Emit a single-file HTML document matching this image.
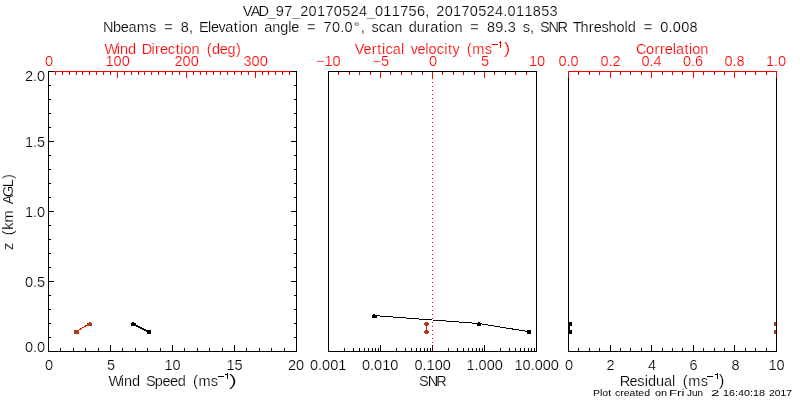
<!DOCTYPE html>
<html><head><meta charset="utf-8"><title>VAD plot</title>
<style>html,body{margin:0;padding:0;background:#fff;width:800px;height:400px;overflow:hidden}
svg{display:block;will-change:transform} text{font-family:"Liberation Sans", sans-serif;white-space:pre;stroke:#fff;stroke-width:0.2px}</style></head>
<body><svg width="800" height="400" viewBox="0 0 800 400">
<rect x="0" y="0" width="800" height="400" fill="#fff"/>
<g shape-rendering="crispEdges">
<rect x="48" y="71" width="1" height="281" fill="#000000"/>
<rect x="296" y="71" width="1" height="281" fill="#000000"/>
<rect x="48" y="351" width="249" height="1" fill="#000000"/>
<rect x="48" y="71" width="6" height="1" fill="#000000"/>
<rect x="54" y="71" width="237" height="1" fill="#ff0000"/>
<rect x="291" y="71" width="6" height="1" fill="#000000"/>
<rect x="48" y="351" width="6" height="1" fill="#000000"/>
<rect x="291" y="351" width="6" height="1" fill="#000000"/>
<rect x="48" y="337" width="3" height="1" fill="#000000"/>
<rect x="294" y="337" width="3" height="1" fill="#000000"/>
<rect x="48" y="323" width="3" height="1" fill="#000000"/>
<rect x="294" y="323" width="3" height="1" fill="#000000"/>
<rect x="48" y="309" width="3" height="1" fill="#000000"/>
<rect x="294" y="309" width="3" height="1" fill="#000000"/>
<rect x="48" y="295" width="3" height="1" fill="#000000"/>
<rect x="294" y="295" width="3" height="1" fill="#000000"/>
<rect x="48" y="281" width="6" height="1" fill="#000000"/>
<rect x="291" y="281" width="6" height="1" fill="#000000"/>
<rect x="48" y="267" width="3" height="1" fill="#000000"/>
<rect x="294" y="267" width="3" height="1" fill="#000000"/>
<rect x="48" y="253" width="3" height="1" fill="#000000"/>
<rect x="294" y="253" width="3" height="1" fill="#000000"/>
<rect x="48" y="239" width="3" height="1" fill="#000000"/>
<rect x="294" y="239" width="3" height="1" fill="#000000"/>
<rect x="48" y="225" width="3" height="1" fill="#000000"/>
<rect x="294" y="225" width="3" height="1" fill="#000000"/>
<rect x="48" y="211" width="6" height="1" fill="#000000"/>
<rect x="291" y="211" width="6" height="1" fill="#000000"/>
<rect x="48" y="197" width="3" height="1" fill="#000000"/>
<rect x="294" y="197" width="3" height="1" fill="#000000"/>
<rect x="48" y="183" width="3" height="1" fill="#000000"/>
<rect x="294" y="183" width="3" height="1" fill="#000000"/>
<rect x="48" y="169" width="3" height="1" fill="#000000"/>
<rect x="294" y="169" width="3" height="1" fill="#000000"/>
<rect x="48" y="155" width="3" height="1" fill="#000000"/>
<rect x="294" y="155" width="3" height="1" fill="#000000"/>
<rect x="48" y="141" width="6" height="1" fill="#000000"/>
<rect x="291" y="141" width="6" height="1" fill="#000000"/>
<rect x="48" y="127" width="3" height="1" fill="#000000"/>
<rect x="294" y="127" width="3" height="1" fill="#000000"/>
<rect x="48" y="113" width="3" height="1" fill="#000000"/>
<rect x="294" y="113" width="3" height="1" fill="#000000"/>
<rect x="48" y="99" width="3" height="1" fill="#000000"/>
<rect x="294" y="99" width="3" height="1" fill="#000000"/>
<rect x="48" y="85" width="3" height="1" fill="#000000"/>
<rect x="294" y="85" width="3" height="1" fill="#000000"/>
<rect x="48" y="71" width="6" height="1" fill="#000000"/>
<rect x="291" y="71" width="6" height="1" fill="#000000"/>
<rect x="60" y="348" width="1" height="3" fill="#000000"/>
<rect x="73" y="348" width="1" height="3" fill="#000000"/>
<rect x="85" y="348" width="1" height="3" fill="#000000"/>
<rect x="98" y="348" width="1" height="3" fill="#000000"/>
<rect x="110" y="345" width="1" height="6" fill="#000000"/>
<rect x="122" y="348" width="1" height="3" fill="#000000"/>
<rect x="135" y="348" width="1" height="3" fill="#000000"/>
<rect x="147" y="348" width="1" height="3" fill="#000000"/>
<rect x="160" y="348" width="1" height="3" fill="#000000"/>
<rect x="172" y="345" width="1" height="6" fill="#000000"/>
<rect x="184" y="348" width="1" height="3" fill="#000000"/>
<rect x="197" y="348" width="1" height="3" fill="#000000"/>
<rect x="209" y="348" width="1" height="3" fill="#000000"/>
<rect x="222" y="348" width="1" height="3" fill="#000000"/>
<rect x="234" y="345" width="1" height="6" fill="#000000"/>
<rect x="246" y="348" width="1" height="3" fill="#000000"/>
<rect x="259" y="348" width="1" height="3" fill="#000000"/>
<rect x="271" y="348" width="1" height="3" fill="#000000"/>
<rect x="284" y="348" width="1" height="3" fill="#000000"/>
<rect x="55" y="72" width="1" height="3" fill="#ff0000"/>
<rect x="62" y="72" width="1" height="3" fill="#ff0000"/>
<rect x="69" y="72" width="1" height="3" fill="#ff0000"/>
<rect x="76" y="72" width="1" height="3" fill="#ff0000"/>
<rect x="82" y="72" width="1" height="3" fill="#ff0000"/>
<rect x="89" y="72" width="1" height="3" fill="#ff0000"/>
<rect x="96" y="72" width="1" height="3" fill="#ff0000"/>
<rect x="103" y="72" width="1" height="3" fill="#ff0000"/>
<rect x="110" y="72" width="1" height="3" fill="#ff0000"/>
<rect x="117" y="72" width="1" height="6" fill="#ff0000"/>
<rect x="124" y="72" width="1" height="3" fill="#ff0000"/>
<rect x="131" y="72" width="1" height="3" fill="#ff0000"/>
<rect x="138" y="72" width="1" height="3" fill="#ff0000"/>
<rect x="144" y="72" width="1" height="3" fill="#ff0000"/>
<rect x="151" y="72" width="1" height="3" fill="#ff0000"/>
<rect x="158" y="72" width="1" height="3" fill="#ff0000"/>
<rect x="165" y="72" width="1" height="3" fill="#ff0000"/>
<rect x="172" y="72" width="1" height="3" fill="#ff0000"/>
<rect x="179" y="72" width="1" height="3" fill="#ff0000"/>
<rect x="186" y="72" width="1" height="6" fill="#ff0000"/>
<rect x="193" y="72" width="1" height="3" fill="#ff0000"/>
<rect x="200" y="72" width="1" height="3" fill="#ff0000"/>
<rect x="206" y="72" width="1" height="3" fill="#ff0000"/>
<rect x="213" y="72" width="1" height="3" fill="#ff0000"/>
<rect x="220" y="72" width="1" height="3" fill="#ff0000"/>
<rect x="227" y="72" width="1" height="3" fill="#ff0000"/>
<rect x="234" y="72" width="1" height="3" fill="#ff0000"/>
<rect x="241" y="72" width="1" height="3" fill="#ff0000"/>
<rect x="248" y="72" width="1" height="3" fill="#ff0000"/>
<rect x="255" y="72" width="1" height="6" fill="#ff0000"/>
<rect x="262" y="72" width="1" height="3" fill="#ff0000"/>
<rect x="268" y="72" width="1" height="3" fill="#ff0000"/>
<rect x="275" y="72" width="1" height="3" fill="#ff0000"/>
<rect x="282" y="72" width="1" height="3" fill="#ff0000"/>
<rect x="289" y="72" width="1" height="3" fill="#ff0000"/>
<rect x="328" y="71" width="1" height="281" fill="#000000"/>
<rect x="536" y="71" width="1" height="281" fill="#000000"/>
<rect x="328" y="351" width="209" height="1" fill="#000000"/>
<rect x="328" y="71" width="209" height="1" fill="#000000"/>
<rect x="338" y="72" width="1" height="3" fill="#ff0000"/>
<rect x="349" y="72" width="1" height="3" fill="#ff0000"/>
<rect x="359" y="72" width="1" height="3" fill="#ff0000"/>
<rect x="370" y="72" width="1" height="3" fill="#ff0000"/>
<rect x="380" y="72" width="1" height="6" fill="#ff0000"/>
<rect x="390" y="72" width="1" height="3" fill="#ff0000"/>
<rect x="401" y="72" width="1" height="3" fill="#ff0000"/>
<rect x="411" y="72" width="1" height="3" fill="#ff0000"/>
<rect x="422" y="72" width="1" height="3" fill="#ff0000"/>
<rect x="432" y="72" width="1" height="6" fill="#ff0000"/>
<rect x="442" y="72" width="1" height="3" fill="#ff0000"/>
<rect x="453" y="72" width="1" height="3" fill="#ff0000"/>
<rect x="463" y="72" width="1" height="3" fill="#ff0000"/>
<rect x="474" y="72" width="1" height="3" fill="#ff0000"/>
<rect x="484" y="72" width="1" height="6" fill="#ff0000"/>
<rect x="494" y="72" width="1" height="3" fill="#ff0000"/>
<rect x="505" y="72" width="1" height="3" fill="#ff0000"/>
<rect x="515" y="72" width="1" height="3" fill="#ff0000"/>
<rect x="526" y="72" width="1" height="3" fill="#ff0000"/>
<rect x="344" y="348" width="1" height="3" fill="#000000"/>
<rect x="353" y="348" width="1" height="3" fill="#000000"/>
<rect x="359" y="348" width="1" height="3" fill="#000000"/>
<rect x="364" y="348" width="1" height="3" fill="#000000"/>
<rect x="368" y="348" width="1" height="3" fill="#000000"/>
<rect x="372" y="348" width="1" height="3" fill="#000000"/>
<rect x="375" y="348" width="1" height="3" fill="#000000"/>
<rect x="378" y="348" width="1" height="3" fill="#000000"/>
<rect x="396" y="348" width="1" height="3" fill="#000000"/>
<rect x="405" y="348" width="1" height="3" fill="#000000"/>
<rect x="411" y="348" width="1" height="3" fill="#000000"/>
<rect x="416" y="348" width="1" height="3" fill="#000000"/>
<rect x="420" y="348" width="1" height="3" fill="#000000"/>
<rect x="424" y="348" width="1" height="3" fill="#000000"/>
<rect x="427" y="348" width="1" height="3" fill="#000000"/>
<rect x="430" y="348" width="1" height="3" fill="#000000"/>
<rect x="380" y="345" width="1" height="6" fill="#000000"/>
<rect x="448" y="348" width="1" height="3" fill="#000000"/>
<rect x="457" y="348" width="1" height="3" fill="#000000"/>
<rect x="463" y="348" width="1" height="3" fill="#000000"/>
<rect x="468" y="348" width="1" height="3" fill="#000000"/>
<rect x="472" y="348" width="1" height="3" fill="#000000"/>
<rect x="476" y="348" width="1" height="3" fill="#000000"/>
<rect x="479" y="348" width="1" height="3" fill="#000000"/>
<rect x="482" y="348" width="1" height="3" fill="#000000"/>
<rect x="432" y="345" width="1" height="6" fill="#000000"/>
<rect x="500" y="348" width="1" height="3" fill="#000000"/>
<rect x="509" y="348" width="1" height="3" fill="#000000"/>
<rect x="515" y="348" width="1" height="3" fill="#000000"/>
<rect x="520" y="348" width="1" height="3" fill="#000000"/>
<rect x="524" y="348" width="1" height="3" fill="#000000"/>
<rect x="528" y="348" width="1" height="3" fill="#000000"/>
<rect x="531" y="348" width="1" height="3" fill="#000000"/>
<rect x="534" y="348" width="1" height="3" fill="#000000"/>
<rect x="484" y="345" width="1" height="6" fill="#000000"/>
<rect x="568" y="71" width="1" height="281" fill="#000000"/>
<rect x="776" y="71" width="1" height="281" fill="#000000"/>
<rect x="568" y="351" width="209" height="1" fill="#000000"/>
<rect x="568" y="71" width="209" height="1" fill="#ff0000"/>
<rect x="568" y="71" width="1" height="7" fill="#ff0000"/>
<rect x="776" y="71" width="1" height="7" fill="#ff0000"/>
<rect x="578" y="72" width="1" height="3" fill="#ff0000"/>
<rect x="578" y="348" width="1" height="3" fill="#000000"/>
<rect x="589" y="72" width="1" height="3" fill="#ff0000"/>
<rect x="589" y="348" width="1" height="3" fill="#000000"/>
<rect x="599" y="72" width="1" height="3" fill="#ff0000"/>
<rect x="599" y="348" width="1" height="3" fill="#000000"/>
<rect x="610" y="72" width="1" height="6" fill="#ff0000"/>
<rect x="610" y="345" width="1" height="6" fill="#000000"/>
<rect x="620" y="72" width="1" height="3" fill="#ff0000"/>
<rect x="620" y="348" width="1" height="3" fill="#000000"/>
<rect x="630" y="72" width="1" height="3" fill="#ff0000"/>
<rect x="630" y="348" width="1" height="3" fill="#000000"/>
<rect x="641" y="72" width="1" height="3" fill="#ff0000"/>
<rect x="641" y="348" width="1" height="3" fill="#000000"/>
<rect x="651" y="72" width="1" height="6" fill="#ff0000"/>
<rect x="651" y="345" width="1" height="6" fill="#000000"/>
<rect x="662" y="72" width="1" height="3" fill="#ff0000"/>
<rect x="662" y="348" width="1" height="3" fill="#000000"/>
<rect x="672" y="72" width="1" height="3" fill="#ff0000"/>
<rect x="672" y="348" width="1" height="3" fill="#000000"/>
<rect x="682" y="72" width="1" height="3" fill="#ff0000"/>
<rect x="682" y="348" width="1" height="3" fill="#000000"/>
<rect x="693" y="72" width="1" height="6" fill="#ff0000"/>
<rect x="693" y="345" width="1" height="6" fill="#000000"/>
<rect x="703" y="72" width="1" height="3" fill="#ff0000"/>
<rect x="703" y="348" width="1" height="3" fill="#000000"/>
<rect x="714" y="72" width="1" height="3" fill="#ff0000"/>
<rect x="714" y="348" width="1" height="3" fill="#000000"/>
<rect x="724" y="72" width="1" height="3" fill="#ff0000"/>
<rect x="724" y="348" width="1" height="3" fill="#000000"/>
<rect x="734" y="72" width="1" height="6" fill="#ff0000"/>
<rect x="734" y="345" width="1" height="6" fill="#000000"/>
<rect x="745" y="72" width="1" height="3" fill="#ff0000"/>
<rect x="745" y="348" width="1" height="3" fill="#000000"/>
<rect x="755" y="72" width="1" height="3" fill="#ff0000"/>
<rect x="755" y="348" width="1" height="3" fill="#000000"/>
<rect x="766" y="72" width="1" height="3" fill="#ff0000"/>
<rect x="766" y="348" width="1" height="3" fill="#000000"/>
<rect x="492" y="44" width="6" height="1" fill="#ff0000"/>
<rect x="218" y="376" width="6" height="1" fill="#000000"/>
<rect x="707" y="376" width="6" height="1" fill="#000000"/>
<rect x="500" y="41" width="1" height="7" fill="#ff0000"/>
<rect x="499" y="42" width="1" height="1" fill="#ff0000"/>
<rect x="227" y="373" width="1" height="6" fill="#000000"/>
<rect x="225" y="374" width="2" height="1" fill="#000000"/>
<rect x="717" y="373" width="1" height="6" fill="#000000"/>
<rect x="715" y="374" width="2" height="1" fill="#000000"/>
</g>
<rect x="432" y="74" width="1" height="1" fill="#ff0000"/>
<rect x="432" y="78" width="1" height="1" fill="#ff0000"/>
<rect x="432" y="82" width="1" height="1" fill="#ff0000"/>
<rect x="432" y="86" width="1" height="1" fill="#ff0000"/>
<rect x="432" y="90" width="1" height="1" fill="#ff0000"/>
<rect x="432" y="94" width="1" height="1" fill="#ff0000"/>
<rect x="432" y="98" width="1" height="1" fill="#ff0000"/>
<rect x="432" y="102" width="1" height="1" fill="#ff0000"/>
<rect x="432" y="106" width="1" height="1" fill="#ff0000"/>
<rect x="432" y="110" width="1" height="1" fill="#ff0000"/>
<rect x="432" y="114" width="1" height="1" fill="#ff0000"/>
<rect x="432" y="118" width="1" height="1" fill="#ff0000"/>
<rect x="432" y="122" width="1" height="1" fill="#ff0000"/>
<rect x="432" y="126" width="1" height="1" fill="#ff0000"/>
<rect x="432" y="130" width="1" height="1" fill="#ff0000"/>
<rect x="432" y="134" width="1" height="1" fill="#ff0000"/>
<rect x="432" y="138" width="1" height="1" fill="#ff0000"/>
<rect x="432" y="142" width="1" height="1" fill="#ff0000"/>
<rect x="432" y="146" width="1" height="1" fill="#ff0000"/>
<rect x="432" y="150" width="1" height="1" fill="#ff0000"/>
<rect x="432" y="154" width="1" height="1" fill="#ff0000"/>
<rect x="432" y="158" width="1" height="1" fill="#ff0000"/>
<rect x="432" y="162" width="1" height="1" fill="#ff0000"/>
<rect x="432" y="166" width="1" height="1" fill="#ff0000"/>
<rect x="432" y="170" width="1" height="1" fill="#ff0000"/>
<rect x="432" y="174" width="1" height="1" fill="#ff0000"/>
<rect x="432" y="178" width="1" height="1" fill="#ff0000"/>
<rect x="432" y="182" width="1" height="1" fill="#ff0000"/>
<rect x="432" y="186" width="1" height="1" fill="#ff0000"/>
<rect x="432" y="190" width="1" height="1" fill="#ff0000"/>
<rect x="432" y="194" width="1" height="1" fill="#ff0000"/>
<rect x="432" y="198" width="1" height="1" fill="#ff0000"/>
<rect x="432" y="202" width="1" height="1" fill="#ff0000"/>
<rect x="432" y="206" width="1" height="1" fill="#ff0000"/>
<rect x="432" y="210" width="1" height="1" fill="#ff0000"/>
<rect x="432" y="214" width="1" height="1" fill="#ff0000"/>
<rect x="432" y="218" width="1" height="1" fill="#ff0000"/>
<rect x="432" y="222" width="1" height="1" fill="#ff0000"/>
<rect x="432" y="226" width="1" height="1" fill="#ff0000"/>
<rect x="432" y="230" width="1" height="1" fill="#ff0000"/>
<rect x="432" y="234" width="1" height="1" fill="#ff0000"/>
<rect x="432" y="238" width="1" height="1" fill="#ff0000"/>
<rect x="432" y="242" width="1" height="1" fill="#ff0000"/>
<rect x="432" y="246" width="1" height="1" fill="#ff0000"/>
<rect x="432" y="250" width="1" height="1" fill="#ff0000"/>
<rect x="432" y="254" width="1" height="1" fill="#ff0000"/>
<rect x="432" y="258" width="1" height="1" fill="#ff0000"/>
<rect x="432" y="262" width="1" height="1" fill="#ff0000"/>
<rect x="432" y="266" width="1" height="1" fill="#ff0000"/>
<rect x="432" y="270" width="1" height="1" fill="#ff0000"/>
<rect x="432" y="274" width="1" height="1" fill="#ff0000"/>
<rect x="432" y="278" width="1" height="1" fill="#ff0000"/>
<rect x="432" y="282" width="1" height="1" fill="#ff0000"/>
<rect x="432" y="286" width="1" height="1" fill="#ff0000"/>
<rect x="432" y="290" width="1" height="1" fill="#ff0000"/>
<rect x="432" y="294" width="1" height="1" fill="#ff0000"/>
<rect x="432" y="298" width="1" height="1" fill="#ff0000"/>
<rect x="432" y="302" width="1" height="1" fill="#ff0000"/>
<rect x="432" y="306" width="1" height="1" fill="#ff0000"/>
<rect x="432" y="310" width="1" height="1" fill="#ff0000"/>
<rect x="432" y="314" width="1" height="1" fill="#ff0000"/>
<rect x="432" y="318" width="1" height="1" fill="#ff0000"/>
<rect x="432" y="322" width="1" height="1" fill="#ff0000"/>
<rect x="432" y="326" width="1" height="1" fill="#ff0000"/>
<rect x="432" y="330" width="1" height="1" fill="#ff0000"/>
<rect x="432" y="334" width="1" height="1" fill="#ff0000"/>
<rect x="432" y="338" width="1" height="1" fill="#ff0000"/>
<rect x="432" y="342" width="1" height="1" fill="#ff0000"/>
<rect x="432" y="346" width="1" height="1" fill="#ff0000"/>
<rect x="432" y="350" width="1" height="1" fill="#ff0000"/>
<line x1="76.5" y1="331.5" x2="89.5" y2="323.5" stroke="#ff0000" stroke-width="1" shape-rendering="crispEdges"/>
<rect x="74" y="330" width="5" height="4" fill="#b23b1f"/>
<rect x="87" y="323" width="5" height="3" fill="#b23b1f"/>
<rect x="89" y="322" width="2" height="1" fill="#b23b1f"/>
<line x1="134" y1="324.5" x2="148" y2="331.5" stroke="#000000" stroke-width="2" shape-rendering="crispEdges"/>
<rect x="131" y="323" width="5" height="3" fill="#000000"/>
<rect x="132" y="322" width="2" height="1" fill="#000000"/>
<rect x="147" y="330" width="4" height="4" fill="#000000"/>
<polyline points="374.5,315.6 478.5,323.5 528.5,331.6" fill="none" stroke="#000000" stroke-width="1" shape-rendering="crispEdges"/>
<rect x="372" y="315" width="5" height="3" fill="#000000"/>
<rect x="373" y="314" width="2" height="1" fill="#000000"/>
<rect x="477" y="323" width="4" height="3" fill="#000000"/>
<rect x="478" y="322" width="2" height="1" fill="#000000"/>
<rect x="527" y="330" width="4" height="4" fill="#000000"/>
<rect x="426" y="326" width="1" height="4" fill="#ff0000"/>
<rect x="425" y="322" width="3" height="4" fill="#b23b1f"/>
<rect x="424" y="323" width="5" height="2" fill="#b23b1f"/>
<rect x="425" y="330" width="3" height="4" fill="#b23b1f"/>
<rect x="424" y="331" width="5" height="2" fill="#b23b1f"/>
<rect x="568" y="322" width="4" height="4" fill="#000000"/>
<rect x="568" y="330" width="4" height="4" fill="#000000"/>
<rect x="568" y="326" width="2" height="4" fill="#000000"/>
<rect x="774" y="322" width="2" height="4" fill="#b23b1f"/>
<rect x="774" y="330" width="2" height="4" fill="#b23b1f"/>
<text x="242.72 250.69 258.48 267.87 275.85 284.25 292.22 300.20 308.60 317.00 325.39 333.79 342.19 350.58 358.98 366.96 374.94 383.33 391.73 400.13 408.52 416.92 425.24 430.70 436.24 444.63 453.03 461.43 469.82 478.22 486.62 495.02 503.34 507.61 516.01 524.41 532.80 541.20 549.60" y="16.00" font-size="14.53" fill="#000000">VAD_97_20170524_011756, 20170524.011853</text>
<text x="102.89 113.10 120.85 128.60 136.85 149.11 157.63 164.20 175.22 180.74 189.04 194.49 198.99 207.88 210.89 218.42 225.34 233.86 238.45 241.68 249.63 258.99 264.29 272.25 280.21 288.29 291.31 300.45 307.02 318.04 323.56 331.93 340.24 344.50 353.80 360.76 366.20 371.50 378.83 386.17 394.13 403.48 408.79 416.74 425.07 430.15 438.66 443.25 446.48 454.44 463.79 470.36 481.38 486.89 495.27 503.58 507.84 517.40 522.69 529.96 535.41 540.12 548.51 557.52 568.49 572.77 580.50 588.82 593.69 601.43 608.56 616.52 624.60 627.83 637.18 643.75 654.77 660.29 668.59 672.85 681.23 689.60" y="32.00" font-size="14.53" fill="#000000">Nbeams = 8, Elevation angle = 70.0°, scan duration = 89.3 s, SNR Threshold = 0.008</text>
<text x="104.48 116.83 120.04 127.98 137.31 141.81 151.50 155.08 159.93 167.86 175.74 180.32 183.53 191.47 200.80 206.66 211.93 219.66 227.39 235.90" y="54.00" font-size="14.53" fill="#ff0000">Wind Direction (deg)</text>
<text x="354.72 363.53 371.68 377.35 381.97 385.42 392.81 400.92 405.57 410.70 417.45 425.36 428.62 436.82 444.32 448.12 452.41 460.76 466.68 472.32 484.64" y="54.00" font-size="14.53" fill="#ff0000">Vertical velocity (ms</text>
<text x="504.00" y="54.00" font-size="15.96" fill="#ff0000" textLength="6.25" lengthAdjust="spacingAndGlyphs">)</text>
<text x="636.08 646.11 654.45 659.90 664.79 672.68 675.92 684.45 689.05 692.29 700.27" y="54.00" font-size="14.53" fill="#ff0000">Correlation</text>
<text x="45.00" y="66.00" font-size="14.53" fill="#ff0000">0</text>
<text x="105.50" y="66.00" font-size="14.53" fill="#ff0000">100</text>
<text x="174.50" y="66.00" font-size="14.53" fill="#ff0000">200</text>
<text x="243.50" y="66.00" font-size="14.53" fill="#ff0000">300</text>
<text x="316.00" y="66.00" font-size="14.53" fill="#ff0000">−10</text>
<text x="372.50" y="66.00" font-size="14.53" fill="#ff0000">−5</text>
<text x="429.00" y="66.00" font-size="14.53" fill="#ff0000">0</text>
<text x="481.00" y="66.00" font-size="14.53" fill="#ff0000">5</text>
<text x="529.00" y="66.00" font-size="14.53" fill="#ff0000">10</text>
<text x="558.50" y="66.00" font-size="14.53" fill="#ff0000">0.0</text>
<text x="600.50" y="66.00" font-size="14.53" fill="#ff0000">0.2</text>
<text x="641.50" y="66.00" font-size="14.53" fill="#ff0000">0.4</text>
<text x="683.00" y="66.00" font-size="14.53" fill="#ff0000">0.6</text>
<text x="724.50" y="66.00" font-size="14.53" fill="#ff0000">0.8</text>
<text x="766.00" y="66.00" font-size="14.53" fill="#ff0000">1.0</text>
<text x="25.00" y="81.00" font-size="14.53" fill="#000000">2.0</text>
<text x="25.00" y="147.00" font-size="14.53" fill="#000000">1.5</text>
<text x="25.00" y="217.00" font-size="14.53" fill="#000000">1.0</text>
<text x="25.00" y="287.00" font-size="14.53" fill="#000000">0.5</text>
<text x="25.00" y="352.00" font-size="14.53" fill="#000000">0.0</text>
<text x="45.00" y="370.00" font-size="14.53" fill="#000000">0</text>
<text x="107.00" y="370.00" font-size="14.53" fill="#000000">5</text>
<text x="164.50" y="370.00" font-size="14.53" fill="#000000">10</text>
<text x="226.50" y="370.00" font-size="14.53" fill="#000000">15</text>
<text x="288.00" y="370.00" font-size="14.53" fill="#000000">20</text>
<text x="310.00" y="370.00" font-size="14.53" fill="#000000">0.001</text>
<text x="362.00" y="370.00" font-size="14.53" fill="#000000">0.010</text>
<text x="414.50" y="370.00" font-size="14.53" fill="#000000">0.100</text>
<text x="466.50" y="370.00" font-size="14.53" fill="#000000">1.000</text>
<text x="514.50" y="370.00" font-size="14.53" fill="#000000">10.000</text>
<text x="565.00" y="370.00" font-size="14.53" fill="#000000">0</text>
<text x="606.50" y="370.00" font-size="14.53" fill="#000000">2</text>
<text x="648.00" y="370.00" font-size="14.53" fill="#000000">4</text>
<text x="689.50" y="370.00" font-size="14.53" fill="#000000">6</text>
<text x="731.50" y="370.00" font-size="14.53" fill="#000000">8</text>
<text x="768.50" y="370.00" font-size="14.53" fill="#000000">10</text>
<text x="108.45 120.78 123.98 131.90 141.22 145.89 154.83 162.54 170.04 177.75 187.06 192.92 198.45 210.67" y="386.00" font-size="14.53" fill="#000000">Wind Speed (ms</text>
<text x="229.00" y="386.00" font-size="15.96" fill="#000000" textLength="7.81" lengthAdjust="spacingAndGlyphs">)</text>
<text x="419.09 427.63 436.37" y="386.00" font-size="14.53" fill="#000000">SNR</text>
<text x="619.68 629.54 637.33 644.63 647.90 655.92 663.94 672.06 676.72 682.65 688.30 700.64" y="386.00" font-size="14.53" fill="#000000">Residual (ms</text>
<text x="719.00" y="386.00" font-size="15.96" fill="#000000" textLength="5.33" lengthAdjust="spacingAndGlyphs">)</text>
<text x="593.00" y="396.00" font-size="9.90" fill="#000000" textLength="18.06" lengthAdjust="spacingAndGlyphs" style="stroke:none">Plot</text>
<text x="615.00" y="396.00" font-size="9.90" fill="#000000" textLength="35.00" lengthAdjust="spacingAndGlyphs" style="stroke:none">created</text>
<text x="655.00" y="396.00" font-size="9.90" fill="#000000" textLength="12.10" lengthAdjust="spacingAndGlyphs" style="stroke:none">on</text>
<text x="669.00" y="396.00" font-size="9.90" fill="#000000" textLength="15.32" lengthAdjust="spacingAndGlyphs" style="stroke:none">Fri</text>
<text x="687.00" y="396.00" font-size="9.90" fill="#000000" textLength="16.00" lengthAdjust="spacingAndGlyphs" style="stroke:none">Jun</text>
<text x="711.00" y="396.00" font-size="9.90" fill="#000000" textLength="8.34" lengthAdjust="spacingAndGlyphs" style="stroke:none">2</text>
<text x="723.00" y="396.00" font-size="9.90" fill="#000000" textLength="42.02" lengthAdjust="spacingAndGlyphs" style="stroke:none">16:40:18</text>
<text x="769.00" y="396.00" font-size="9.90" fill="#000000" textLength="23.00" lengthAdjust="spacingAndGlyphs" style="stroke:none">2017</text>
<text x="-0.10 8.89 14.82 20.15 27.64 41.37 45.72 53.14 62.76 70.92" y="0.00" font-size="14.53" fill="#000000" transform="translate(13,250) rotate(-90)">z (km AGL)</text>
</svg></body></html>
